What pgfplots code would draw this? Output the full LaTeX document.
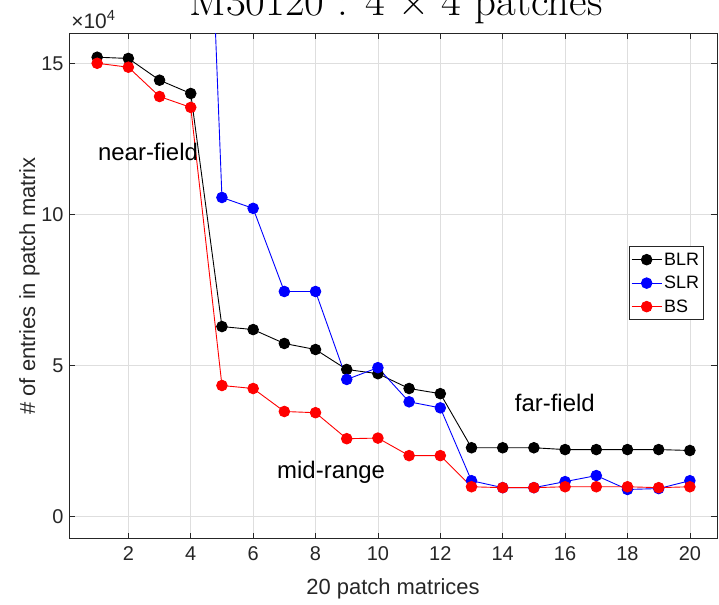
\documentclass[border=0pt]{standalone}
\usepackage{fontspec}
\newfontfamily\arial{Liberation Sans}
\usepackage{pgfplots}
\pgfplotsset{compat=1.18}
\usetikzlibrary{calc}
\definecolor{axgray}{gray}{0.15}
\definecolor{gridgray}{gray}{0.87}
\begin{document}
\begin{tikzpicture}
\begin{axis}[
 scale only axis, width=647bp, height=505bp,
 xmin=0.1, xmax=20.87, ymin=-0.73, ymax=16,
 xtick={2,4,...,20}, ytick={0,5,10,15},
 grid=major, major grid style={gridgray, line width=0.6bp},
 axis line style={axgray, line width=0.6bp},
 tick style={axgray, line width=0.6bp},
 tick align=inside, major tick length=6bp,
 /pgf/number format/assume math mode=true,
 ticklabel style={font=\arial\fontsize{20}{24}\selectfont, text=axgray},
 xticklabel style={yshift=-4bp},
 yticklabel style={xshift=-2bp},
 xlabel={20 patch matrices}, ylabel={\# of entries in patch matrix},
 label style={font=\arial\fontsize{22}{26}\selectfont, text=axgray},
 xlabel style={at={(axis description cs:0.5,0)}, anchor=base, yshift=-56bp},
 ylabel style={at={(axis description cs:-0.0526,0.5)}, rotate=0, anchor=base},
 legend style={at={(rel axis cs:0.864,0.578)}, anchor=north west,
   font=\arial\fontsize{18}{22}\selectfont, draw=axgray, line width=0.6bp,
   inner xsep=2bp, inner ysep=4bp, row sep=5.5bp, cells={anchor=west}},
 legend image code/.code={\draw[mark repeat=2,mark phase=2] plot coordinates {(0bp,0bp)(15bp,0bp)(30bp,0bp)};},
 every axis plot/.append style={line width=0.9bp, mark=*, mark size=5.3bp},
]
\addplot[black, mark options={fill=black}] coordinates {
(1,15.2)(2,15.16)(3,14.44)(4,14.0)(5,6.29)(6,6.19)(7,5.73)(8,5.53)(9,4.87)(10,4.73)
(11,4.24)(12,4.07)(13,2.28)(14,2.28)(15,2.28)(16,2.22)(17,2.22)(18,2.22)(19,2.22)(20,2.19)};
\addlegendentry{BLR}
\addplot[blue, no marks, forget plot] coordinates {(1,40)(2,39)(3,38)(4,37)(5,10.56)};
\addplot[blue, mark options={fill=blue}] coordinates {
(5,10.56)(6,10.2)(7,7.45)(8,7.45)(9,4.54)(10,4.93)(11,3.8)(12,3.6)(13,1.19)(14,0.96)
(15,0.96)(16,1.16)(17,1.36)(18,0.9)(19,0.93)(20,1.19)};
\addlegendentry{SLR}
\addplot[red, mark options={fill=red}] coordinates {
(1,15.0)(2,14.87)(3,13.9)(4,13.54)(5,4.34)(6,4.24)(7,3.48)(8,3.44)(9,2.58)(10,2.6)
(11,2.02)(12,2.02)(13,0.99)(14,0.96)(15,0.96)(16,0.99)(17,0.99)(18,0.99)(19,0.96)(20,0.99)};
\addlegendentry{BS}
\node[font=\arial\fontsize{24}{28}\selectfont] at (axis cs:2.63,12.05) {near-field};
\node[font=\arial\fontsize{24}{28}\selectfont] at (axis cs:8.5,1.46) {mid-range};
\node[font=\arial\fontsize{24}{28}\selectfont] at (axis cs:15.67,3.77) {far-field};
\end{axis}
\node[anchor=base west, font=\arial\fontsize{21}{24}\selectfont, text=axgray, inner sep=0pt] at ($(current axis.north west)+(2bp,5bp)$) {\texttimes10\textsuperscript{4}};
\node[anchor=base, font=\fontsize{43}{46}\selectfont, inner sep=0pt] at ($(current axis.north)+(3bp,18bp)$) {M30120 : 4 × 4 patches};
\pgfresetboundingbox
\path[use as bounding box] ($(current axis.south west)+(-69bp,-66bp)$) rectangle ($(current axis.north east)+(2bp,33bp)$);
\end{tikzpicture}
\end{document}
